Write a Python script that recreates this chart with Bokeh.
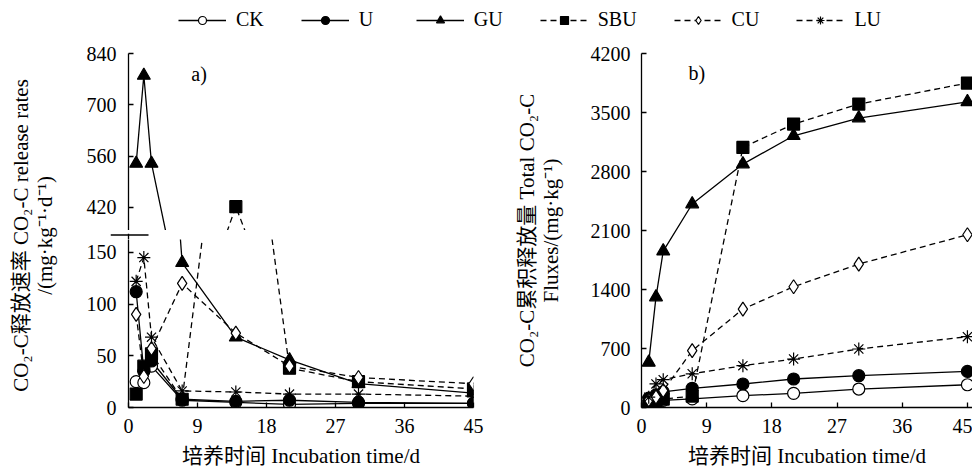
from bokeh.plotting import figure
from bokeh.models import Range1d, FixedTicker, Legend, LegendItem, Label, ColumnDataSource
from bokeh.layouts import column, row
from bokeh.embed import file_html
from bokeh.resources import INLINE

# ---------------- data ----------------
days = [1, 2, 3, 7, 14, 21, 30, 45]
names = ["CK", "U", "GU", "SBU", "CU", "LU"]

# a) CO2-C release rates, mg/(kg*d)
rate_CK = [25, 24, 40, 7, 5, 3, 4, 4]
rate_U = [112, 35, 45, 8, 6, 7, 5, 4]
rate_GU = [540, 780, 540, 140, 68, 46, 23, 14]
rate_SBU = [13, 40, 52, 8, 422, 38, 25, 18]
rate_CU = [90, 30, 57, 120, 72, 40, 29, 23]
rate_LU = [122, 145, 68, 16, 15, 13, 13, 11]

# b) cumulative CO2-C, mg/kg
cum_CK = [25, 48, 85, 102, 140, 168, 219, 270]
cum_U = [112, 150, 185, 228, 279, 338, 377, 428]
cum_GU = [535, 1310, 1855, 2414, 2888, 3224, 3434, 3627]
cum_SBU = [14, 52, 100, 135, 3086, 3363, 3600, 3849]
cum_CU = [90, 125, 200, 674, 1168, 1433, 1702, 2050]
cum_LU = [122, 280, 330, 400, 496, 575, 694, 840]

x_ticks = [0, 9, 18, 27, 36, 45]
rate_ticks_low = [0, 50, 100, 150]
rate_ticks_high = [420, 560, 700, 840]
cum_ticks = [0, 700, 1400, 2100, 2800, 3500, 4200]

rates = dict(CK=rate_CK, U=rate_U, GU=rate_GU, SBU=rate_SBU, CU=rate_CU, LU=rate_LU)
cums = dict(CK=cum_CK, U=cum_U, GU=cum_GU, SBU=cum_SBU, CU=cum_CU, LU=cum_LU)

x_title = "培养时间 Incubation time/d"
left_title = "CO\u2082-C释放速率 CO\u2082-C release rates\n/(mg·kg\u207b\u00b9·d\u207b\u00b9)"
right_title = "CO\u2082-C累积释放量 Total CO\u2082-C\nFluxes/(mg·kg\u207b\u00b9)"

# ---------------- styles ----------------
SERIF = "Liberation Serif"
MIXED = "Liberation Serif, Noto Sans CJK SC"
TICK_FS = "20px"
TITLE_FS = "21px"
styles = {
    "CK": dict(dash="solid", marker="circle", fill="white", size=12),
    "U": dict(dash="solid", marker="circle", fill="black", size=12),
    "GU": dict(dash="solid", marker="triangle", fill="black", size=13),
    "SBU": dict(dash="6 4", marker="square", fill="black", size=12),
    "CU": dict(dash="6 4", marker="diamond", fill="white", size=14),
    "LU": dict(dash="6 4", marker="asterisk", fill="black", size=13),
}


def base(fw, fh, xr, yr, left, right, top, bottom, xaxis=True, yaxis=True):
    p = figure(frame_width=fw, frame_height=fh, x_range=xr, y_range=yr,
               output_backend="svg", toolbar_location=None,
               x_axis_location="below" if xaxis else None,
               y_axis_location="left" if yaxis else None,
               min_border_left=left, min_border_right=right,
               min_border_top=top, min_border_bottom=bottom)
    p.grid.visible = False
    p.outline_line_color = None
    p.background_fill_color = "white"
    p.border_fill_color = "white"
    return p


def style_axis(ax, ticks, standoff):
    ax.ticker = FixedTicker(ticks=ticks)
    ax.axis_line_color = "black"
    ax.axis_line_width = 1.3
    ax.major_tick_in = 5
    ax.major_tick_out = 0
    ax.minor_tick_in = 0
    ax.minor_tick_out = 0
    ax.major_tick_line_width = 1.3
    ax.major_tick_line_color = "black"
    ax.minor_tick_line_color = None
    ax.major_label_text_font = SERIF
    ax.major_label_text_font_size = TICK_FS
    ax.major_label_text_color = "black"
    ax.major_label_standoff = standoff
    ax.axis_label_text_font = MIXED
    ax.axis_label_text_font_size = TITLE_FS
    ax.axis_label_text_font_style = "normal"
    ax.axis_label_text_color = "black"
    ax.axis_label_text_line_height = 1.0


def draw(p, data):
    for n in names:
        st = styles[n]
        src = ColumnDataSource(dict(x=days, y=data[n]))
        p.line("x", "y", source=src, line_color="black", line_width=1.3, line_dash=st["dash"])
    for n in names:
        st = styles[n]
        src = ColumnDataSource(dict(x=days, y=data[n]))
        p.scatter("x", "y", source=src, marker=st["marker"], size=st["size"],
                  fill_color=st["fill"], line_color="black", line_width=1.2)


# ---------------- legend strip ----------------
leg = base(972, 30, Range1d(0, 1), Range1d(0, 1), 0, 0, 0, 0, xaxis=False, yaxis=False)
items = []
for n in names:
    st = styles[n]
    dummy = ColumnDataSource(dict(x=[float("nan")], y=[float("nan")]))
    r1 = leg.line("x", "y", source=dummy, line_color="black", line_width=1.3, line_dash=st["dash"])
    r2 = leg.scatter("x", "y", source=dummy, marker=st["marker"], size=st["size"],
                     fill_color=st["fill"], line_color="black", line_width=1.2)
    items.append(LegendItem(label=n, renderers=[r1, r2]))
legend = Legend(items=items, orientation="horizontal", location=(178, -1),
                glyph_width=48, glyph_height=20, label_height=20, label_standoff=10,
                spacing=37, padding=0, margin=0, border_line_color=None,
                background_fill_alpha=0, label_text_font=SERIF,
                label_text_font_size="20px", label_text_color="black")
leg.add_layout(legend)

# ---------------- left y title strip ----------------
tfig = base(2, 344, Range1d(0, 1), Range1d(0, 1), 62, 0, 33, 62, xaxis=False, yaxis=True)
style_axis(tfig.yaxis[0], [], 0)
tfig.yaxis.axis_line_color = None
tfig.yaxis.major_tick_in = 0
tfig.yaxis.axis_label = left_title
tfig.yaxis.axis_label_standoff = 6

# ---------------- left panel (broken axis) ----------------
left_x = Range1d(0, 45)
up = base(345, 177, left_x, Range1d(357, 840), 64, 20, 23, 0, xaxis=False)
style_axis(up.yaxis[0], rate_ticks_high, 12)
draw(up, rates)
up.add_layout(Label(x=8.2, y=783, text="a)", text_font=SERIF, text_font_size="20px",
                    text_baseline="middle", text_align="left", text_color="black"))

# gap strip between the two parts of the broken axis: the "=" break sign
# (its own pixel-like range; the strip's frame starts 18 px left of the axis)
mid = base(365, 9, Range1d(-18, 347), Range1d(0, 9), 46, 18, 0, 0, xaxis=False, yaxis=False)
mid.segment(x0=[-18, -18, 0], y0=[7.5, 1.5, 0], x1=[20, 20, 0], y1=[7.5, 1.5, 9],
            line_color="black", line_width=1.3)

low = base(345, 168, left_x, Range1d(0, 162.5), 64, 20, 0, 62)
style_axis(low.yaxis[0], rate_ticks_low, 12)
style_axis(low.xaxis[0], x_ticks, 11)
low.xaxis.axis_label = x_title
low.xaxis.axis_label_standoff = 8
draw(low, rates)

# ---------------- right panel ----------------
rp = base(331, 354, Range1d(0, 45.7), Range1d(0, 4200), 148, 0, 23, 62)
style_axis(rp.yaxis[0], cum_ticks, 11)
style_axis(rp.xaxis[0], x_ticks, 11)
rp.xaxis.axis_label = x_title
rp.xaxis.axis_label_standoff = 8
rp.yaxis.axis_label = right_title
rp.yaxis.axis_label_standoff = 25
draw(rp, cums)
rp.add_layout(Label(x=6.5, y=3971, text="b)", text_font=SERIF, text_font_size="20px",
                    text_baseline="middle", text_align="left", text_color="black"))

layout = column(leg, row(column(tfig), column(up, column(mid), low), column(rp)))

open("out.html", "w").write(file_html(layout, INLINE))
